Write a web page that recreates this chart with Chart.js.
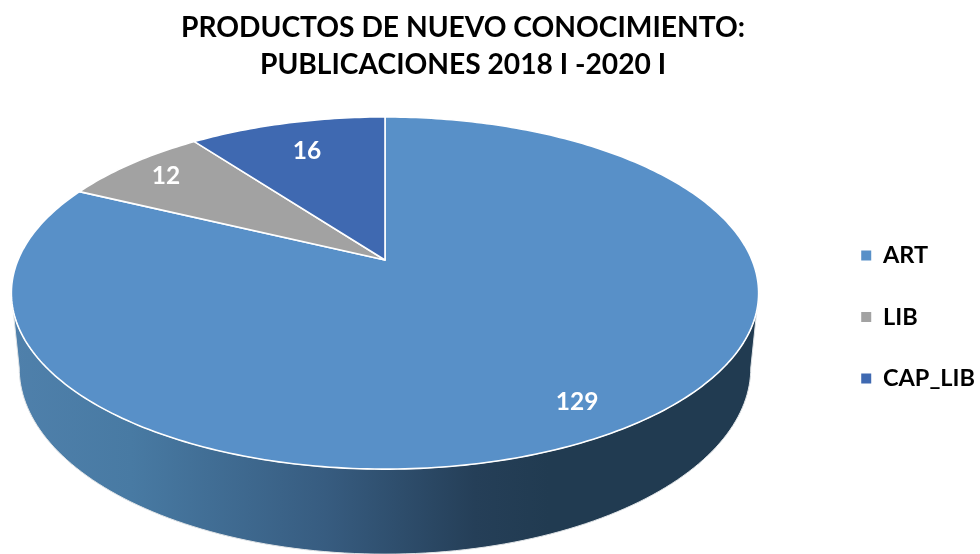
<!DOCTYPE html>
<html>
<head>
<meta charset="utf-8">
<script src="https://cdn.jsdelivr.net/npm/chart.js@4"></script>
<style>
  html, body { margin: 0; padding: 0; background: #fff; overflow: hidden; }
  canvas { display: block; }
</style>
</head>
<body>
<canvas id="myChart" width="980" height="554"></canvas>
<script>
const categories = ["ART", "LIB", "CAP_LIB"];
const publications = [129, 12, 16];
const sliceColors = ["#5890c8", "#a2a2a2", "#3f69b1"];
const titleLines = ["PRODUCTOS DE NUEVO CONOCIMIENTO:", "PUBLICACIONES 2018 I -2020 I"];

// how far out along its slice each value label sits (0 centre, 1 rim)
const labelReach = [0.852, 0.853, 0.767];

// perspective of the pie top: apex is not the middle of the ellipse
const cx = 385, apexY = 260, a = 367, b = 169.9, p = 0.1875;
const fontName = "Lato, 'Open Sans', sans-serif";

function project(angle, r) {
  // chart.js angles: -PI/2 is the top of the pie, going clockwise
  const u = Math.cos(angle) * r;
  const v = -Math.sin(angle) * r;
  const w = 1 + p * v;
  return { x: cx + a * u / w, y: apexY - b * v / w };
}

function rim(angle) {
  const top = project(angle, 1);
  return { x: cx + (top.x - cx) * 0.979, y: 368 + (top.y - 293) * 1.057 };
}

function drawWall(ctx) {
  const edge = Math.asin(p);
  const pts = [];
  const steps = 120;
  // front of the top face, left to right
  for (let i = 0; i <= steps; i++) {
    pts.push(project(Math.PI - edge - (Math.PI - 2 * edge) * i / steps, 1));
  }
  // bottom edge, right to left
  for (let i = steps; i >= 0; i--) {
    pts.push(rim(Math.PI - edge - (Math.PI - 2 * edge) * i / steps));
  }
  const grad = ctx.createLinearGradient(12, 0, 758, 0);
  grad.addColorStop(0, "#4f80ab");
  grad.addColorStop(0.16, "#487aa3");
  grad.addColorStop(0.42, "#375c80");
  grad.addColorStop(0.62, "#253f58");
  grad.addColorStop(0.72, "#213b51");
  grad.addColorStop(1, "#213b51");
  ctx.beginPath();
  pts.forEach((pt, i) => (i ? ctx.lineTo(pt.x, pt.y) : ctx.moveTo(pt.x, pt.y)));
  ctx.closePath();
  ctx.fillStyle = grad;
  ctx.fill();
  ctx.strokeStyle = "#dfe3e6";
  ctx.lineWidth = 1;
  ctx.stroke();
}

function drawSlice(ctx, arc, color) {
  const steps = Math.ceil((arc.endAngle - arc.startAngle) * 60);
  ctx.beginPath();
  ctx.moveTo(cx, apexY);
  for (let i = 0; i <= steps; i++) {
    const pt = project(arc.startAngle + (arc.endAngle - arc.startAngle) * i / steps, 1);
    ctx.lineTo(pt.x, pt.y);
  }
  ctx.closePath();
  ctx.fillStyle = color;
  ctx.fill();
  ctx.strokeStyle = "#fff";
  ctx.lineWidth = 1.6;
  ctx.lineJoin = "round";
  ctx.stroke();
}

const tiltedPie = {
  id: "tiltedPie",
  afterLayout(chart) {
    // title sits a little left of the canvas centre, legend a little lower than its default
    chart.titleBlock.left -= 27;
    chart.titleBlock.right -= 27;
    chart.legend.left += 5;
    chart.legend.right += 5;
    chart.legend.top += 35;
    chart.legend.bottom += 35;
  },
  beforeDatasetsDraw(chart) {
    const ctx = chart.ctx;
    const arcs = chart.getDatasetMeta(0).data;
    ctx.save();
    drawWall(ctx);
    arcs.forEach((arc, i) => drawSlice(ctx, arc, sliceColors[i]));
    ctx.fillStyle = "#fff";
    ctx.font = "bold 24.5px " + fontName;
    ctx.textAlign = "center";
    ctx.textBaseline = "middle";
    arcs.forEach((arc, i) => {
      const pos = project((arc.startAngle + arc.endAngle) / 2, labelReach[i]);
      ctx.fillText(String(publications[i]), pos.x, pos.y);
    });
    ctx.restore();
    return false;
  }
};

new Chart(document.getElementById("myChart").getContext("2d"), {
  type: "pie",
  data: {
    labels: categories,
    datasets: [{ data: publications, backgroundColor: sliceColors, borderWidth: 0 }]
  },
  options: {
    responsive: false,
    animation: false,
    devicePixelRatio: 1,
    layout: { padding: { top: 10, right: 0, bottom: 0, left: 0 } },
    plugins: {
      tooltip: { enabled: false },
      title: {
        display: true,
        text: titleLines,
        color: "#000",
        font: { family: fontName, size: 28.2, weight: "bold", lineHeight: 1.29 },
        padding: { top: 0, bottom: 10 }
      },
      legend: {
        position: "right",
        labels: {
          usePointStyle: true,
          pointStyle: "rect",
          boxWidth: 10,
          boxHeight: 10,
          padding: 38,
          color: "#000",
          font: { family: fontName, size: 23.5, weight: "bold" }
        }
      }
    }
  },
  plugins: [tiltedPie]
});
</script>
</body>
</html>
